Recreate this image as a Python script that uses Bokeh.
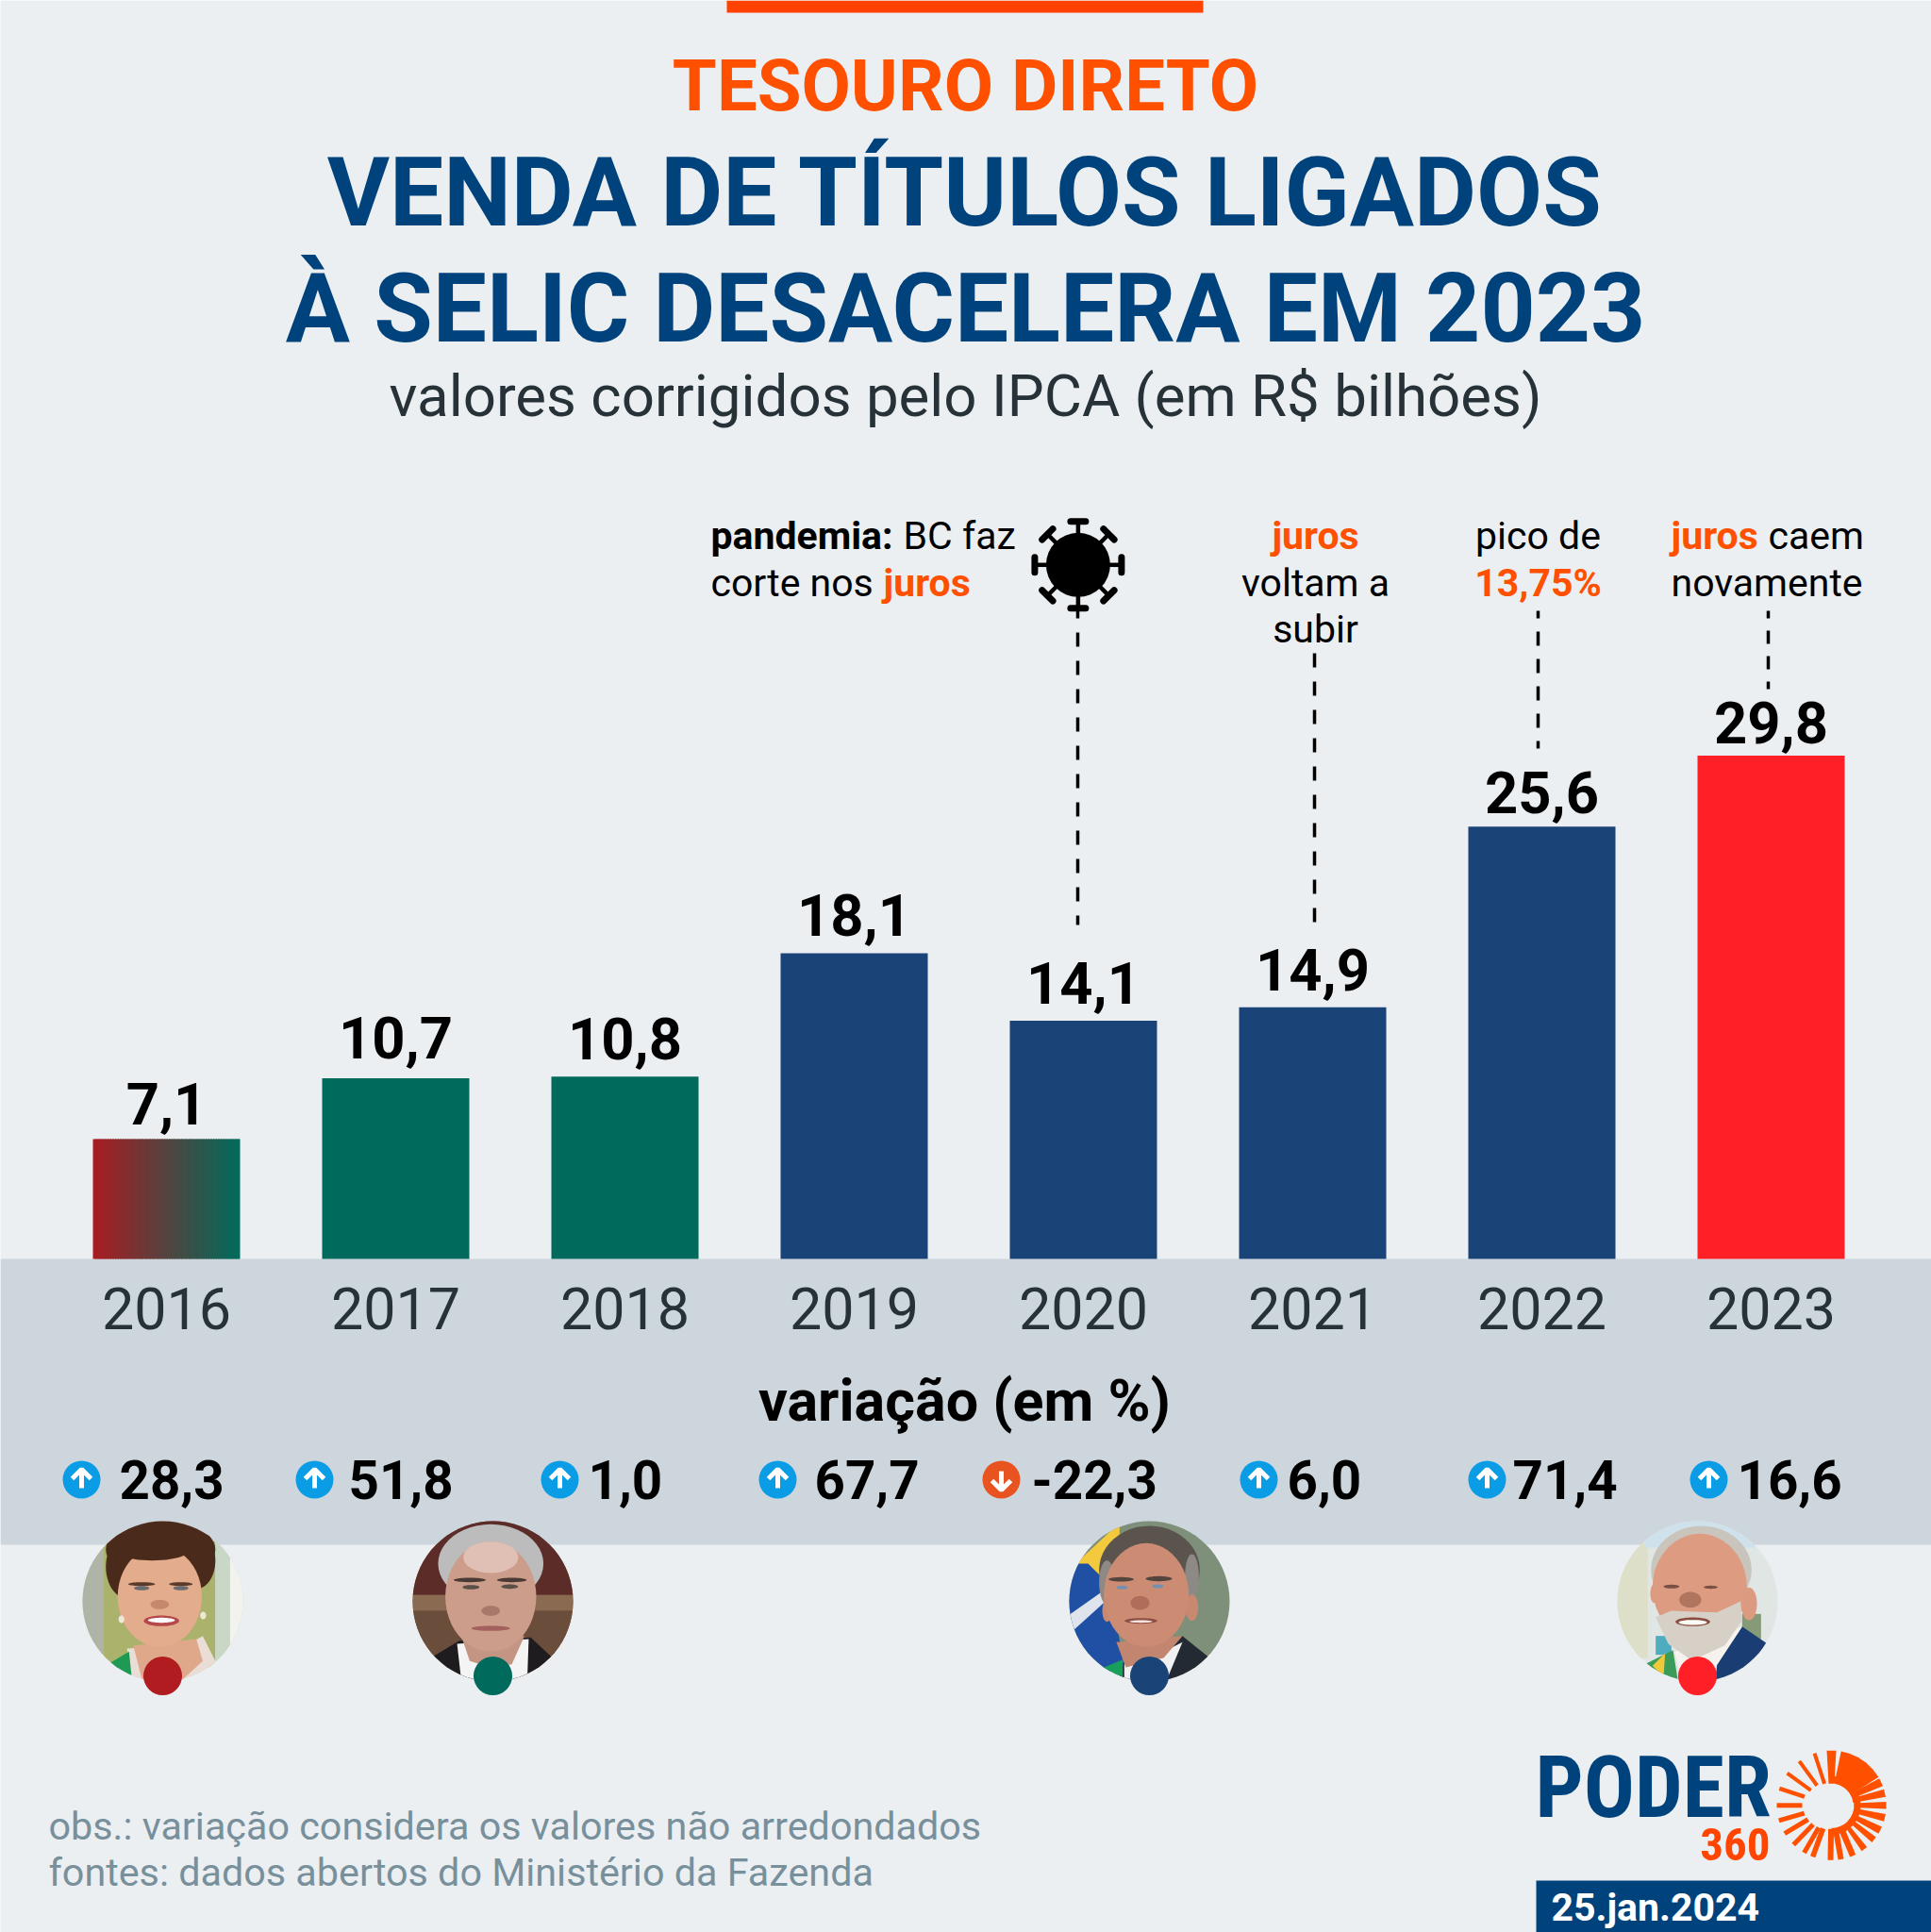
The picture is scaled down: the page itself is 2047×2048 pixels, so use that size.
import math
from bokeh.core.properties import value
from bokeh.embed import file_html
from bokeh.resources import INLINE
from bokeh.plotting import figure
from bokeh.models import Range1d, LinearAxis, FixedTicker, ColumnDataSource

# ---------- data ----------
years = [2016, 2017, 2018, 2019, 2020, 2021, 2022, 2023]
values = [7.1, 10.7, 10.8, 18.1, 14.1, 14.9, 25.6, 29.8]
value_labels = ["7,1", "10,7", "10,8", "18,1", "14,1", "14,9", "25,6", "29,8"]
variation = ["28,3", "51,8", "1,0", "67,7", "-22,3", "6,0", "71,4", "16,6"]
variation_up = [True, True, True, True, False, True, True, True]

# ---------- layout / style ----------
W, H = 2047, 2048
BASE_PX, UNIT_PX, STEP_PX, FIRST_X = 1334, 17.9, 243, 176
BAR_W = 156 / STEP_PX
BG, BAND = "#ebeff2", "#ced6dd"
ORANGE, NAVY = "#ff5000", "#00437c"
GREEN, BLUE, RED, DARKRED = "#006b5c", "#1a4378", "#ff1f27", "#b01c20"
bar_colors = [GREEN, GREEN, GREEN, BLUE, BLUE, BLUE, BLUE, RED]
FONT = "Roboto"
CONDENSED = "Roboto Condensed, Roboto"
K = 0.36  # shift from the glyph's text anchor to the drawn baseline, per px of font size
label_nudge = [2.5, -2.5, 0, 0, 0, 0, 4, 5]

p = figure(width=W, height=H, output_backend="svg", toolbar_location=None,
           x_range=Range1d(years[0] - FIRST_X / STEP_PX, years[0] + (W - FIRST_X) / STEP_PX),
           y_range=Range1d((BASE_PX - H) / UNIT_PX, BASE_PX / UNIT_PX),
           x_axis_location=None, y_axis_location=None, min_border=0,
           background_fill_color=BG, border_fill_color=BG, outline_line_color=None)
p.grid.visible = False
p.extra_x_ranges["px"] = Range1d(0, W)
p.extra_y_ranges["px"] = Range1d(H, 0)
PX = dict(x_range_name="px", y_range_name="px")


def txt(x, y, s, size, color="#000000", style="normal", align="center", font=FONT):
    p.text([x], [y - K * size], text=[s], text_font=value(font), text_font_size=f"{size}px", text_color=color,
           text_font_style=style, text_align=align, text_baseline="alphabetic", **PX)


def rect(x0, y0, x1, y1, color):
    p.quad(left=[x0], right=[x1], top=[y0], bottom=[y1], fill_color=color, line_color=None, **PX)


# ---------- frame shapes ----------
rect(0, 1334, W, 1637, BAND)
rect(770, 0, 1275, 13, "#ff4200")
rect(1628, 1993, W, H, NAVY)

# ---------- bars ----------
p.vbar(x=years[1:], top=values[1:], width=BAR_W, bottom=0, fill_color=bar_colors[1:], line_color=None)
n = 60
left0 = years[0] - BAR_W / 2
sl = BAR_W / n
c0, c1 = (168, 28, 34), (0, 107, 92)
p.quad(left=[left0 + i * sl for i in range(n)],
       right=[min(left0 + (i + 1.6) * sl, left0 + BAR_W) for i in range(n)],
       top=[values[0]] * n, bottom=[0] * n, line_color=None,
       fill_color=["#%02x%02x%02x" % tuple(round(a + (b - a) * i / (n - 1)) for a, b in zip(c0, c1)) for i in range(n)])

axis = LinearAxis(ticker=FixedTicker(ticks=years), major_label_overrides={y: str(y) for y in years},
                  axis_line_color=None, major_tick_line_color=None, minor_tick_line_color=None,
                  major_label_text_font=FONT, major_label_text_font_size="61px",
                  major_label_text_color="#263238", major_label_standoff=24, fixed_location=0)
p.add_layout(axis, "below")

VAL = 61.5
src = ColumnDataSource(dict(x=years, y=values, t=value_labels,
                            off=[-18 - K * VAL + d for d in label_nudge]))
p.text(x="x", y="y", text="t", source=src, text_font=value(FONT), text_font_size=f"{VAL}px", text_font_style="bold",
       text_color="#000000", text_align="center", text_baseline="alphabetic", y_offset="off")

# ---------- titles ----------
txt(1023, 118, "TESOURO DIRETO", 76, ORANGE, "bold")
txt(1023, 241, "VENDA DE TÍTULOS LIGADOS", 101.6, NAVY, "bold")
txt(1023, 364, "À SELIC DESACELERA EM 2023", 101.6, NAVY, "bold")
txt(1023, 442, "valores corrigidos pelo IPCA (em R$ bilhões)", 61.8, "#263238")

# ---------- annotations ----------
A = 41
txt(753, 582, "pandemia:", A, style="bold", align="left")
txt(957, 582, "BC faz", A, align="left")
txt(753, 632, "corte nos", A, align="left")
txt(936, 632, "juros", A, ORANGE, "bold", "left")
txt(1394, 582, "juros", A, ORANGE, "bold")
txt(1394, 632, "voltam a", A)
txt(1394, 681, "subir", A)
txt(1630, 582, "pico de", A)
txt(1630, 632, "13,75%", A, ORANGE, "bold")
txt(1771, 582, "juros", A, ORANGE, "bold", "left")
txt(1874, 582, "caem", A, align="left")
txt(1771, 632, "novamente", A, align="left")

lead_x = [1142, 1393, 1630, 1874]
lead_y0 = [640, 692, 647, 647]
lead_y1 = [980, 980, 793, 730]
lead_dash = [[15, 15], [15, 15], [15, 14], [14, 13]]
lead_off = [0, 0, 7, 6]
for x, y0, y1, dash, off in zip(lead_x, lead_y0, lead_y1, lead_dash, lead_off):
    p.line([x, x], [y0, y1], line_color="#000000", line_width=3.5, line_dash=dash, line_dash_offset=off, **PX)

# virus
vx, vy = 1142.4, 598.3
p.ellipse([vx], [vy], width=[68], height=[68], fill_color="#000000", line_color=None, **PX)
st_x, st_y, cap_x, cap_y = [], [], [], []
for k in range(8):
    a = k * math.pi / 4
    ca, sa = math.cos(a), math.sin(a)
    st_x.append([vx + 30 * ca, vx + 46 * ca]); st_y.append([vy + 30 * sa, vy + 46 * sa])
    cap_x.append([vx + 46 * ca - 8 * sa, vx + 46 * ca + 8 * sa])
    cap_y.append([vy + 46 * sa + 8 * ca, vy + 46 * sa - 8 * ca])
p.multi_line(st_x, st_y, line_color="#000000", line_width=4.5, **PX)
p.multi_line(cap_x, cap_y, line_color="#000000", line_width=7, line_cap="round", **PX)

# ---------- variation block ----------
txt(1022, 1506, "variação (em %)", 61, style="bold")
icon_x = [86, 333, 593, 824, 1061, 1334, 1576, 1811]
text_x = [126, 369, 623, 863, 1093, 1364, 1603, 1841]
ICON_Y = 1568
for ix, tx, s, up in zip(icon_x, text_x, variation, variation_up):
    p.ellipse([ix], [ICON_Y], width=[40], height=[40], fill_color="#0b9ce6" if up else "#e8531f", line_color=None, **PX)
    d = -1 if up else 1
    p.multi_line([[ix, ix], [ix - 10, ix, ix + 10]],
                 [[ICON_Y - 9 * d, ICON_Y + 10 * d], [ICON_Y + 1 * d, ICON_Y + 11 * d, ICON_Y + 1 * d]],
                 line_color="#ffffff", line_width=5, **PX)
    txt(tx, 1588, s, 56.5, style="bold", align="left")

# ---------- portraits (reference photos are approximated by flat shapes) ----------
R = 85


def ell(x, y, rx, ry):
    return [(x + rx * math.cos(t * math.pi / 24), y + ry * math.sin(t * math.pi / 24)) for t in range(48)]


def clip(poly, cx, cy, r):
    m = 72
    ring = [(cx + r * math.cos(2 * math.pi * i / m), cy + r * math.sin(2 * math.pi * i / m)) for i in range(m)]
    out = poly
    for i in range(m):
        ax, ay = ring[i]
        bx, by = ring[(i + 1) % m]
        inside = lambda q: (bx - ax) * (q[1] - ay) - (by - ay) * (q[0] - ax) >= 0
        res = []
        for j in range(len(out)):
            c, e = out[j], out[(j + 1) % len(out)]
            ci, ei = inside(c), inside(e)
            if ci != ei:
                d1 = (bx - ax) * (c[1] - ay) - (by - ay) * (c[0] - ax)
                d2 = (bx - ax) * (e[1] - ay) - (by - ay) * (e[0] - ax)
                t = d1 / (d1 - d2)
                ip = (c[0] + t * (e[0] - c[0]), c[1] + t * (e[1] - c[1]))
            if ci:
                res.append(c)
                if not ei:
                    res.append(ip)
            elif ei:
                res.append(ip)
        out = res
        if not out:
            break
    return out


def portrait(cx, cy, zc, sx, sy, shapes, dot):
    zx0, zy0 = zc
    for color, pts in shapes:
        poly = [(cx + (x - zx0) / sx, cy + (y - zy0) / sy) for x, y in pts]
        poly = clip(poly, cx, cy, R)
        if poly:
            p.patch([q[0] for q in poly], [q[1] for q in poly], fill_color=color, line_color=None, **PX)
    p.ellipse([cx], [1776], width=[41], height=[41], fill_color=dot, line_color=None, **PX)


circle = ell(0, 0, 2000, 2000)
dilma = [("#d3d6cd", circle), ("#aeb4a6", [(190, 0), (245, 0), (245, 560), (190, 560)]),
         ("#aab26c", [(245, 100), (510, 100), (510, 500), (245, 500)]),
         ("#c9d8c6", [(510, 100), (545, 100), (545, 500), (510, 500)]),
         ("#f2f3ee", [(545, 0), (600, 0), (600, 560), (545, 560)]),
         ("#e9ddd5", [(300, 440), (320, 600), (540, 560), (480, 400), (440, 430)]),
         ("#1e9a55", [(255, 490), (305, 450), (312, 540), (270, 540)]),
         ("#dfa88a", [(315, 430), (465, 410), (480, 480), (390, 590), (340, 560)]),
         ("#4a2a1b", ell(380, 125, 130, 95)), ("#4a2a1b", ell(300, 180, 50, 100)), ("#4a2a1b", ell(465, 160, 45, 90)),
         ("#e3ac8c", ell(378, 275, 100, 160)), ("#4a2a1b", ell(360, 130, 85, 30)),
         ("#f0e8d6", ell(287, 347, 7, 12)), ("#f0e8d6", ell(481, 335, 7, 12)),
         ("#5a3a2b", ell(335, 235, 32, 6)), ("#5a3a2b", ell(428, 235, 28, 6)),
         ("#6a6a70", ell(335, 248, 18, 7)), ("#6a6a70", ell(428, 248, 18, 7)),
         ("#c6886c", ell(378, 300, 22, 15)),
         ("#b5484a", ell(382, 352, 42, 17)), ("#fafafa", ell(382, 350, 32, 8))]
temer = [("#6f4c3e", circle), ("#5c2c28", [(970, 0), (1370, 0), (1370, 270), (970, 270)]),
         ("#8a6a50", [(970, 270), (1370, 270), (1370, 320), (970, 320)]),
         ("#6b4d3c", [(970, 320), (1370, 320), (1370, 470), (970, 470)]),
         ("#1f1c20", [(1010, 480), (1090, 415), (1260, 405), (1320, 480), (1300, 600), (1060, 600)]),
         ("#f4f4f4", [(1085, 425), (1255, 410), (1250, 600), (1100, 600)]),
         ("#c59583", [(1095, 400), (1245, 400), (1215, 490), (1165, 500), (1115, 480)]),
         ("#bcbcbc", ell(1165, 170, 125, 125)),
         ("#cc9d8a", ell(1165, 275, 108, 175)), ("#e0c0b4", ell(1165, 150, 65, 50)),
         ("#4a3a34", ell(1115, 222, 38, 7)), ("#4a3a34", ell(1215, 222, 35, 7)),
         ("#5a5048", ell(1118, 245, 20, 7)), ("#5a5048", ell(1210, 243, 20, 7)),
         ("#a8786a", ell(1165, 320, 22, 16)), ("#a3605c", ell(1165, 376, 46, 8))]
bolso = [("#7e907a", circle), ("#f3c93d", [(60, 170), (200, 40), (200, 210), (130, 210)]),
         ("#1f50a4", [(20, 170), (100, 170), (170, 240), (215, 500), (150, 520), (20, 420)]),
         ("#dfe3ec", [(30, 340), (140, 262), (155, 290), (50, 385)]),
         ("#232a33", [(195, 545), (215, 480), (400, 400), (480, 465), (420, 600)]),
         ("#18a05a", [(150, 500), (210, 475), (210, 535)]),
         ("#f1f1f1", [(215, 490), (300, 470), (400, 420), (350, 540), (215, 560)]),
         ("#c28670", [(190, 420), (400, 400), (340, 470), (220, 500)]),
         ("#5b534e", ell(295, 190, 160, 140)), ("#8d8985", ell(160, 230, 25, 70)), ("#8d8985", ell(430, 210, 22, 70)),
         ("#c98970", ell(430, 310, 20, 42)), ("#c98970", ell(160, 320, 15, 35)),
         ("#cc8c74", ell(285, 270, 135, 165)),
         ("#54443e", ell(205, 220, 40, 7)), ("#54443e", ell(325, 218, 42, 8)),
         ("#7590ae", ell(208, 246, 18, 6)), ("#7590ae", ell(322, 242, 18, 6)),
         ("#b06e5a", ell(265, 295, 30, 22)), ("#8f4f46", ell(268, 352, 52, 9)), ("#f3e5dc", ell(268, 354, 36, 4))]
lula = [("#e0e6e4", circle), ("#dedfc8", [(30, 100), (140, 100), (140, 470), (30, 470)]),
        ("#cfe2ec", [(130, 30), (480, 30), (480, 120), (130, 120)]),
        ("#4eacc0", [(165, 400), (215, 400), (215, 460), (165, 460)]),
        ("#879a78", [(440, 330), (500, 330), (500, 410), (440, 410)]),
        ("#1a3e73", [(350, 600), (360, 490), (440, 370), (520, 425), (470, 600)]),
        ("#3a9c58", [(130, 490), (220, 445), (245, 600), (170, 560)]),
        ("#f0c93a", [(155, 495), (195, 455), (190, 530)]),
        ("#f6f3ee", [(225, 450), (440, 370), (355, 500), (245, 530)]),
        ("#c9c5bd", ell(310, 190, 160, 140)),
        ("#dc9a80", ell(462, 298, 25, 52)), ("#dc9a80", ell(160, 265, 12, 30)),
        ("#dd9b82", ell(305, 245, 150, 170)),
        ("#d6d0c6", [(165, 340), (215, 320), (360, 325), (435, 290), (440, 350), (385, 430), (280, 478), (205, 425)]),
        ("#b0755f", ell(275, 285, 35, 25)),
        ("#7a5044", ell(215, 243, 25, 6)), ("#7a5044", ell(340, 245, 22, 5)),
        ("#8a4c40", ell(283, 355, 55, 14)), ("#fbfbf6", ell(283, 357, 45, 8))]
portrait(172, 1697, (385, 290), 2.24, 3, dilma, DARKRED)
portrait(522, 1697, (1170, 290), 2.24, 3, temer, GREEN)
portrait(1218, 1697, (295, 290), 3, 3, bolso, BLUE)
portrait(1799, 1697, (298, 290), 3, 3, lula, RED)

# ---------- footnotes ----------
txt(51, 1950, "obs.: variação considera os valores não arredondados", 41.3, "#78909c", align="left")
txt(51, 1999, "fontes: dados abertos do Ministério da Fazenda", 41.3, "#78909c", align="left")

# ---------- logo ----------
txt(1627, 1927, "PODER", 90, NAVY, "bold", "left", CONDENSED)
txt(1876, 1972, "360", 49, "#ff4500", "bold", "right", CONDENSED)
txt(1644, 2036, "25.jan.2024", 41, "#ffffff", "bold", "left")

LX, LY = 1941, 1913.3
ray_angles = [90, 75, 65, 56, 46, 36, 25, 13, 0, 347, 333, 321, 307, 293, 280, 269, 250, 240, 226, 211, 196, 180, 162, 144, 126, 108]
ray_widths = [10, 10, 11, 11, 11, 10, 9, 8, 7.5, 8, 8, 7, 7, 6.5, 6, 6, 5.5, 5, 5, 5, 5, 5, 4.5, 4, 4, 4]
ray_start = [23, 23, 23, 23, 23, 23, 23, 23, 24, 24, 24, 24, 25, 25, 25, 25, 26, 27, 28, 29, 30, 31, 30, 27, 26, 24]
for a, w, r0 in zip(ray_angles, ray_widths, ray_start):
    t = math.radians(a)
    ux, uy = math.cos(t), -math.sin(t)
    nx, ny = -uy, ux
    wi = w * 0.6 if w > 6.5 else w
    xs = [LX + r0 * ux - wi / 2 * nx, LX + 58 * ux - w / 2 * nx, LX + 58 * ux + w / 2 * nx, LX + r0 * ux + wi / 2 * nx]
    ys = [LY + r0 * uy - wi / 2 * ny, LY + 58 * uy - w / 2 * ny, LY + 58 * uy + w / 2 * ny, LY + r0 * uy + wi / 2 * ny]
    p.patch(xs, ys, fill_color=ORANGE, line_color=None, **PX)
arc = list(range(90, -91, -5))
xs = [LX + 24 * math.cos(math.radians(a)) for a in arc] + [LX + 31 * math.cos(math.radians(a)) for a in reversed(arc)]
ys = [LY - 24 * math.sin(math.radians(a)) for a in arc] + [LY - 31 * math.sin(math.radians(a)) for a in reversed(arc)]
p.patch(xs, ys, fill_color=ORANGE, line_color=None, **PX)

open("out.html", "w").write(file_html(p, INLINE))
